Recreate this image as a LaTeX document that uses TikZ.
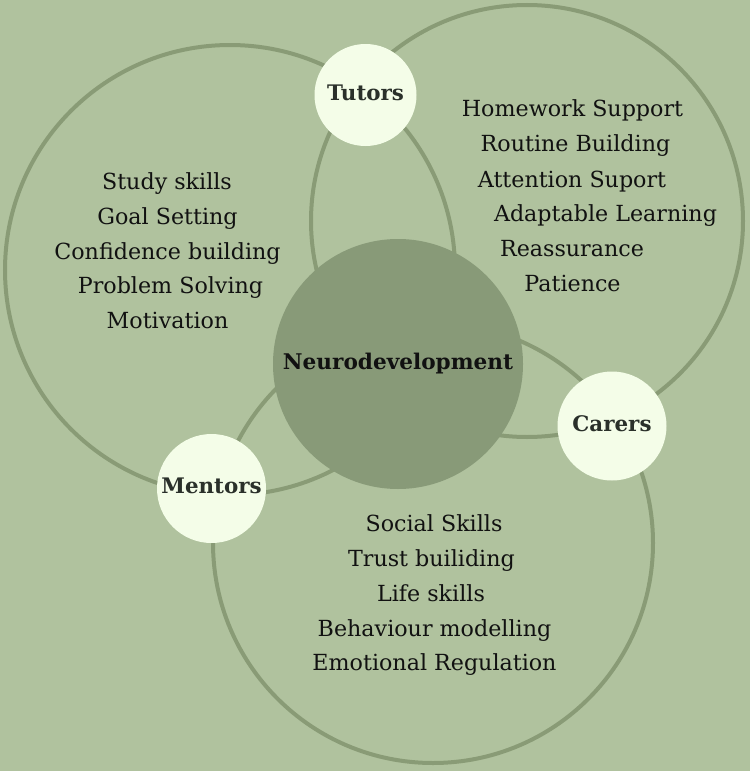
\documentclass[tikz,border=0pt]{standalone}
\usepackage{fontspec}
\setmainfont{DejaVu Serif}
\definecolor{bgc}{HTML}{B0C29E}
\definecolor{ringc}{HTML}{899B76}
\definecolor{corec}{HTML}{889A78}
\definecolor{bubc}{HTML}{F4FDE8}
\definecolor{labc}{HTML}{2A302A}
\definecolor{txtc}{HTML}{111111}
\tikzset{
  ring/.style={circle, draw=ringc, line width=4pt, inner sep=0pt},
  core/.style={circle, fill=corec, inner sep=0pt, text height=1.09em, text depth=0pt, font=\fontsize{21.6}{24}\selectfont\bfseries, text=txtc},
  bubble/.style={circle, fill=bubc, inner sep=0pt, text height=1.09em, text depth=0pt, font=\fontsize{21.4}{24}\selectfont\bfseries, text=labc},
  item/.style={font=\fontsize{22.2}{26}\selectfont, text=txtc, inner sep=0pt, text height=0.73em, text depth=0pt, yshift=-4pt}
}
\begin{document}
\begin{tikzpicture}[x=1pt,y=-1pt]
\fill[bgc] (0,0) rectangle (750,771);
\useasboundingbox (0,0) rectangle (750,771);
% big rings
\node[ring, minimum size=450pt] (left) at (230,270) {};
\node[ring, minimum size=432pt] (right) at (527,221) {};
\node[ring, minimum size=440pt] (bottom) at (433,543) {};
% core
\node[core, minimum size=250pt] (core) at (398,364) {Neurodevelopment};
% bubbles
\node[bubble, minimum size=102pt] (tutors) at (365.5,95) {Tutors};
\node[bubble, minimum size=109pt] (carers) at (612,426) {Carers};
\node[bubble, minimum size=109pt] (mentors) at (211.5,488.5) {Mentors};
% left list
\node[item] (l1) at (167,182) {Study skills};
\node[item] (l2) at (167.5,217) {Goal Setting};
\node[item] (l3) at (167.5,252) {Confidence building};
\node[item] (l4) at (170.5,286) {Problem Solving};
\node[item] (l5) at (167.5,321) {Motivation};
% right list
\node[item] (r1) at (572.5,109) {Homework Support};
\node[item] (r2) at (575.5,144) {Routine Building};
\node[item] (r3) at (572,180) {Attention Suport};
\node[item] (r4) at (605.5,214) {Adaptable Learning};
\node[item] (r5) at (572,249) {Reassurance};
\node[item] (r6) at (572.5,284) {Patience};
% bottom list
\node[item] (b1) at (434,524) {Social Skills};
\node[item] (b2) at (431.5,559) {Trust builiding};
\node[item] (b3) at (431,594) {Life skills};
\node[item] (b4) at (434.5,629) {Behaviour modelling};
\node[item] (b5) at (434.5,663) {Emotional Regulation};
\end{tikzpicture}
\end{document}
